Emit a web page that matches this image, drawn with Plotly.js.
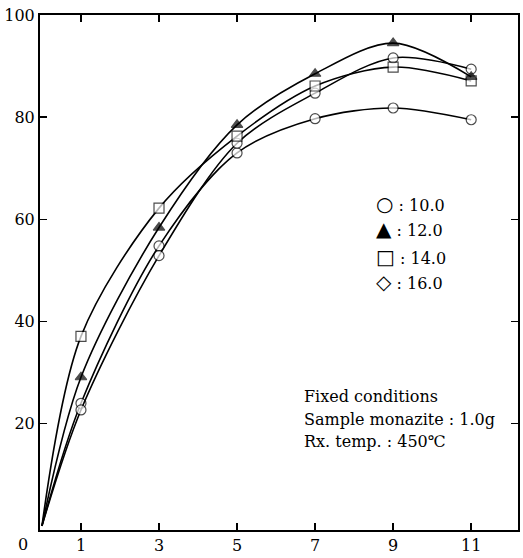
<!DOCTYPE html>
<html>
<head>
<meta charset="utf-8">
<script src="https://cdn.plot.ly/plotly-3.0.1.min.js"></script>
<style>html,body{margin:0;padding:0;background:#fff;}</style>
</head>
<body>
<div id="chart" style="width:523px;height:558px;"></div>
<script>
// x values (the origin point carries no marker)
const xVals = [0, 1, 3, 5, 7, 9, 11];
const s10 = [0, 24.0, 54.8, 73.0, 79.7, 81.8, 79.5];
const s12 = [0, 29.1, 58.4, 78.5, 88.5, 94.5, 87.9];
const s14 = [0, 37.1, 62.2, 76.3, 86.1, 89.8, 87.1];
const s16 = [0, 22.7, 52.9, 74.9, 84.7, 91.6, 89.4];
const xTicks = [1, 3, 5, 7, 9, 11];
const yTicks = [20, 40, 60, 80, 100];
const legendLabels = ['10.0', '12.0', '14.0', '16.0'];
const legendSymbols = ['○', '▲', '□', '◇'];

const sizes = xVals.map((x, i) => i === 0 ? 0 : 10);
function trace(y, symbol, fill) {
  return {
    x: xVals, y: y, type: 'scatter', mode: 'lines+markers',
    line: {color: '#000', width: 1.6, shape: 'spline', smoothing: 0.9},
    marker: {symbol: symbol, size: sizes, color: fill, line: {color: '#000', width: 1.2}},
    showlegend: false, hoverinfo: 'none'
  };
}
const data = [
  trace(s10, 'circle', '#fff'),
  trace(s16, 'circle', '#fff'),
  trace(s14, 'square', '#fff'),
  trace(s12, 'triangle-up', '#000')
];

const serif = 'DejaVu Serif, Liberation Serif, serif';
const annotations = [];
const legY = [0.633, 0.584, 0.530, 0.481];
legendLabels.forEach((lab, i) => {
  annotations.push({
    xref: 'paper', yref: 'paper', x: 0.698, y: legY[i], xanchor: 'left', yanchor: 'middle',
    showarrow: false,
    text: '<span style="font-size:20px">' + legendSymbols[i] + '</span> : ' + lab,
    font: {family: serif, size: 16, color: '#000'}
  });
});
const notes = ['Fixed conditions', 'Sample monazite : 1.0g', 'Rx. temp. : 450℃'];
const noteY = [0.259, 0.214, 0.172];
notes.forEach((t, i) => {
  annotations.push({
    xref: 'paper', yref: 'paper', x: 0.548, y: noteY[i], xanchor: 'left', yanchor: 'middle',
    showarrow: false, text: t, font: {family: serif, size: 16, color: '#000'}
  });
});
annotations.push({
  xref: 'paper', yref: 'paper', x: -0.036, y: -0.029, xanchor: 'center', yanchor: 'middle',
  showarrow: false, text: '0', font: {family: serif, size: 16, color: '#000'}
});

const layout = {
  width: 523, height: 558,
  margin: {l: 40, r: 5, t: 15, b: 28},
  paper_bgcolor: '#fff', plot_bgcolor: '#fff',
  xaxis: {
    range: [-0.05, 12.2], tickvals: xTicks, ticktext: xTicks.map(String),
    ticks: 'inside', ticklen: 7, tickwidth: 1.5, tickcolor: '#000',
    showline: true, linewidth: 2, linecolor: '#000', mirror: 'ticks',
    showgrid: false, zeroline: false,
    tickfont: {family: serif, size: 16, color: '#000'}
  },
  yaxis: {
    range: [-0.8, 100], tickvals: yTicks, ticktext: yTicks.map(String),
    ticks: 'inside', ticklen: 7, tickwidth: 1.5, tickcolor: '#000',
    showline: true, linewidth: 2, linecolor: '#000', mirror: 'ticks',
    showgrid: false, zeroline: false,
    tickfont: {family: serif, size: 16, color: '#000'}
  },
  annotations: annotations,
  showlegend: false
};
Plotly.newPlot('chart', data, layout, {staticPlot: true, displayModeBar: false});
</script>
</body>
</html>
